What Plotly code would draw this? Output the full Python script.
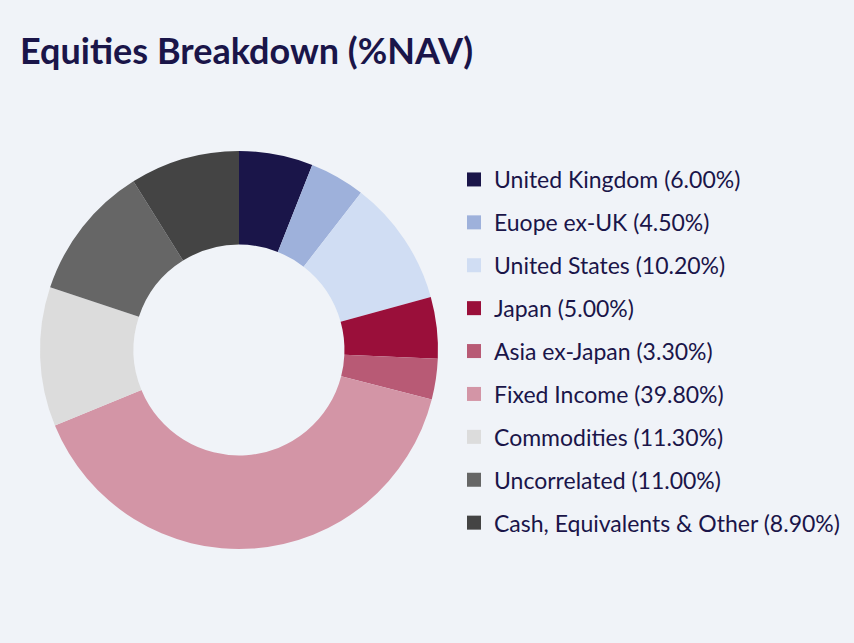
import plotly.graph_objects as go

categories = ["United Kingdom", "Euope ex-UK", "United States", "Japan", "Asia ex-Japan",
              "Fixed Income", "Commodities", "Uncorrelated", "Cash, Equivalents & Other"]
values = [6.00, 4.50, 10.20, 5.00, 3.30, 39.80, 11.30, 11.00, 8.90]
colors = ["#1a1549", "#9eb1db", "#d0ddf3", "#9a0f3a", "#b85a75",
          "#d395a6", "#dcdcdc", "#666666", "#444444"]

labels = [f"{c} ({v:.2f}%)" for c, v in zip(categories, values)]

fig = go.Figure()
fig.add_trace(go.Pie(
    labels=labels, values=values, hole=0.53, sort=False, direction="clockwise",
    rotation=0, marker=dict(colors=colors, line=dict(width=0)),
    textinfo="none", hoverinfo="label", showlegend=False,
    domain=dict(x=[40/854, 438/854], y=[1-549/643, 1-151/643]),
))
# legend entries (one per slice, so spacing can be controlled)
for lab, col in zip(labels, colors):
    fig.add_trace(go.Scatter(
        x=[None], y=[None], mode="markers", name=lab, legendgroup=lab,
        marker=dict(symbol="square", size=14, color=col), hoverinfo="skip",
    ))
fig.update_xaxes(visible=False)
fig.update_yaxes(visible=False)
fig.update_layout(
    width=854, height=643,
    paper_bgcolor="#f0f3f8", plot_bgcolor="#f0f3f8",
    margin=dict(l=0, r=0, t=0, b=0),
    font=dict(family="Lato", color="#1a1549", size=23),
    title=dict(text="<b>Equities Breakdown (%NAV)</b>", x=20/854, xanchor="left",
               y=1-51/643, yanchor="middle", font=dict(size=36, color="#1a1549")),
    legend=dict(x=454/854, xanchor="left", y=1-158/643, yanchor="top",
                font=dict(size=23, color="#1a1549"), bgcolor="rgba(0,0,0,0)",
                tracegroupgap=10, itemclick=False, itemdoubleclick=False),
)
fig.write_html("out.html", config={"displayModeBar": False},
               post_script="document.body.style.margin='0';document.body.style.background='#f0f3f8';")
